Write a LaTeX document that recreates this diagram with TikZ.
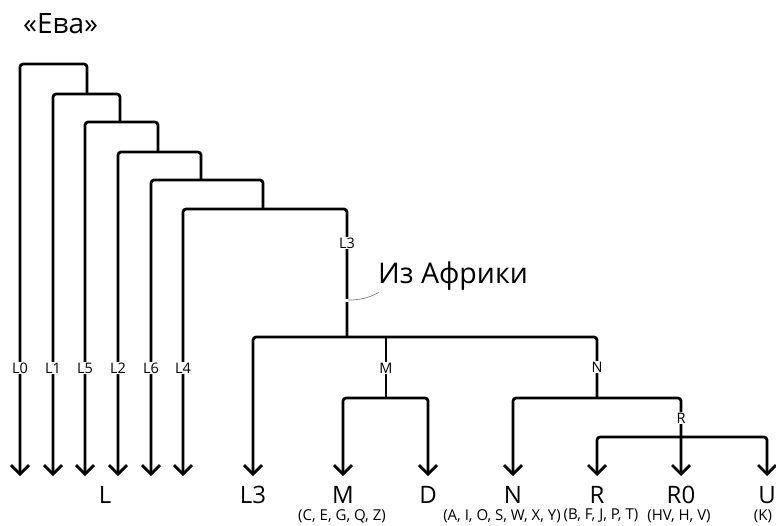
\documentclass[tikz,border=0pt]{standalone}
\usepackage{fontspec}
\setmainfont{Open Sans}
\usetikzlibrary{arrows.meta}
\begin{document}
\begin{tikzpicture}[x=1pt,y=-1pt,
  br/.style={line width=2.7pt, rounded corners=3pt},
  arr/.style={br, -{Straight Barb[length=9pt,width=18pt,line width=2.7pt]}},
  arrb/.style={br, {Straight Barb[length=9pt,width=18pt,line width=2.7pt]}-{Straight Barb[length=9pt,width=18pt,line width=2.7pt]}},
  small/.style={fill=white, inner sep=1pt, font=\fontsize{14.5}{14.5}\selectfont},
  big/.style={inner sep=0pt, font=\fontsize{24}{24}\selectfont},
  sub/.style={inner sep=0pt, font=\fontsize{15}{15}\selectfont}]
\useasboundingbox (0,0) rectangle (776,525);
% coordinates
\foreach \n/\x in {t0/20,t1/53,t2/85,t3/118,t4/151,t5/183}{\coordinate (\n) at (\x,476);}
\coordinate (c1) at (20,64);  \coordinate (j2) at (87,94);
\coordinate (c2) at (53,94);  \coordinate (j3) at (120,122);
\coordinate (c3) at (85,122); \coordinate (j4) at (158,152);
\coordinate (c4) at (118,152);\coordinate (j5) at (201,180);
\coordinate (c5) at (151,180);\coordinate (j6) at (263,209);
\coordinate (c6) at (183,209);\coordinate (j7) at (347,337);
\coordinate (c7) at (253,337);\coordinate (jN) at (597,398);
\coordinate (tL3) at (253,476);
\coordinate (mt) at (386,337); \coordinate (jM) at (386,398);
\coordinate (tM) at (343,476); \coordinate (tD) at (428,476);
\coordinate (tN) at (513,476); \coordinate (tR0) at (681,476);
\coordinate (jR) at (681,437);
\coordinate (tR) at (597,476); \coordinate (tU) at (767,476);
% ladder
\draw[arr] (j2) |- (c1) -- (t0);
\draw[arr] (j3) |- (c2) -- (t1);
\draw[arr] (j4) |- (c3) -- (t2);
\draw[arr] (j5) |- (c4) -- (t3);
\draw[arr] (j6) |- (c5) -- (t4);
\draw[arr] (j7) |- (c6) -- (t5);
\draw[arr] (jN) |- (c7) -- (tL3);
\draw[br] (mt) -- (jM);
\draw[arrb] (tM) |- (jM) -| (tD);
\draw[arrb] (tN) |- (jN) -| (tR0);
\draw[arrb] (tR) |- (jR) -| (tU);
% small labels on lines
\foreach \n/\x/\t in {l0/20/L0,l1/53/L1,l5/85/L5,l2/118/L2,l6/151/L6,l4/183/L4}{\node[small] (\n) at (\x,368) {\t};}
\node[small] (lL3) at (347,243) {L3};
\node[small] (lM) at (386,368) {M};
\node[small] (lN) at (597,367) {N};
\node[small] (lR) at (681,418) {R};
% Out of Africa
\node[inner sep=0pt, anchor=west, font=\fontsize{28.5}{28.5}\selectfont] (afr) at (378,276) {Из Африки};
\coordinate (ap) at (348,300);
\draw[white, line width=3pt] (342,300) -- (352,300);
\draw[gray, line width=0.7pt] (ap) .. controls (366,300) and (373,295) .. ([xshift=1pt,yshift=-2pt]afr.south west);
% title
\node[inner sep=0pt, anchor=west, font=\fontsize{28}{28}\selectfont] (eva) at (23,24) {«Ева»};
% bottom labels
\node[big] (bL) at (105,495) {L};
\node[big] (bL3) at (253,495) {L3};
\node[big] (bM) at (343,495) {M};
\node[big] (bD) at (428,495) {D};
\node[big] (bN) at (513,495) {N};
\node[big] (bR) at (597,495) {R};
\node[big] (bR0) at (681,495) {R0};
\node[big] (bU) at (767,495) {U};
\node[sub] (sM) at (342,516) {(C, E, G, Q, Z)};
\node[sub] (sN) at (502,516) {(A, I, O, S, W, X, Y)};
\node[sub] (sR) at (601,516) {(B, F, J, P, T)};
\node[sub] (sR0) at (679,516) {(HV, H, V)};
\node[sub] (sU) at (763,516) {(K)};
\end{tikzpicture}
\end{document}
